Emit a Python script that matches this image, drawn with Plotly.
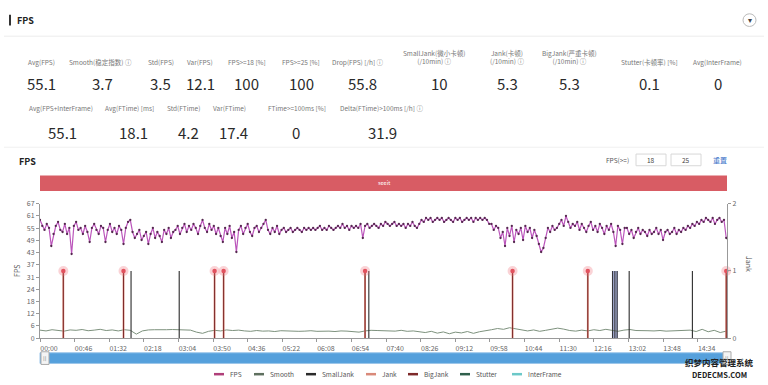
import plotly.graph_objects as go

W, H = 768, 385

# ---------------- data ----------------
summary_labels_r1 = ["Avg(FPS)", "Smooth(稳定指数) ⓘ", "Std(FPS)", "Var(FPS)", "FPS>=18 [%]",
                     "FPS>=25 [%]", "Drop(FPS) [/h] ⓘ", "SmallJank(微小卡顿)<br>(/10min) ⓘ",
                     "Jank(卡顿)<br>(/10min) ⓘ", "BigJank(严重卡顿)<br>(/10min) ⓘ",
                     "Stutter(卡顿率) [%]", "Avg(InterFrame)"]
summary_values_r1 = ["55.1", "3.7", "3.5", "12.1", "100", "100", "55.8", "10", "5.3", "5.3", "0.1", "0"]
summary_labels_r2 = ["Avg(FPS+InterFrame)", "Avg(FTime) [ms]", "Std(FTime)", "Var(FTime)",
                     "FTime>=100ms [%]", "Delta(FTime)>100ms [/h] ⓘ"]
summary_values_r2 = ["55.1", "18.1", "4.2", "17.4", "0", "31.9"]

time_tick_labels = ["00:00", "00:46", "01:32", "02:18", "03:04", "03:50", "04:36", "05:22", "06:08",
                    "06:54", "07:40", "08:26", "09:12", "09:58", "10:44", "11:30", "12:16", "13:02",
                    "13:48", "14:34"]
time_tick_seconds = [0, 46, 92, 138, 184, 230, 276, 322, 368, 414, 460, 506, 552, 598, 644, 690,
                     736, 782, 828, 874]
time_axis_end_s = 913

fps_sample_step_s = 3
fps_values = [
    59, 56, 54, 57, 55, 46, 52, 56, 58, 54, 53, 57, 52, 55, 42, 56, 58, 54, 55, 52,
    56, 53, 48, 55, 57, 54, 52, 56, 55, 48, 54, 57, 53, 55, 52, 56, 54, 47, 55, 58,
    59, 53, 50, 52, 54, 49, 51, 53, 47, 52, 55, 50, 53, 51, 48, 54, 52, 55, 50, 53,
    54, 56, 52, 55, 57, 53, 56, 54, 57, 55, 52, 56, 59, 55, 53, 57, 54, 56, 52, 55,
    51, 48, 55, 52, 56, 50, 53, 43, 54, 56, 52, 55, 57, 53, 51, 55, 56, 53, 55, 57,
    59, 54, 52, 55, 53, 56, 52, 54, 55, 53, 54, 55, 53, 54, 55, 54, 53, 55, 54, 55,
    54, 55, 54, 55, 56, 54, 55, 54, 56, 55, 54, 55, 56, 55, 57, 55, 56, 54, 56, 55,
    56, 55, 57, 50, 56, 57, 55, 56, 57, 56, 55, 57, 56, 58, 57, 56, 57, 58, 56, 57,
    56, 57, 55, 57, 56, 58, 56, 55, 57, 59, 58, 60, 59, 60, 58, 59, 60, 59, 60, 58,
    59, 60, 59, 58, 60, 59, 60, 58, 59, 60, 59, 60, 58, 60, 59, 60, 59, 60, 59, 57,
    57, 54, 56, 55, 50, 53, 46, 55, 51, 56, 48, 54, 52, 55, 49, 56, 53, 55, 50, 54,
    51, 47, 43, 45, 50, 55, 53, 56, 54, 55, 57, 59, 56, 61, 58, 55, 57, 56, 58, 54,
    57, 55, 53, 56, 58, 54, 56, 53, 57, 55, 52, 56, 54, 57, 53, 46, 56, 54, 47, 55,
    55, 52, 54, 50, 53, 55, 52, 54, 53, 51, 54, 52, 53, 55, 52, 54, 49, 53, 54, 52,
    53, 55, 52, 54, 53, 55, 54, 56, 55, 57, 56, 58, 57, 59, 58, 60, 59, 58, 60, 57,
    59, 60, 58, 59, 50,
]

smooth_sample_step_s = 8
smooth_values = [
    4.0, 3.6, 4.2, 3.8, 3.5, 4.1, 3.9, 4.3, 3.7, 4.0, 4.4, 3.8, 4.1, 3.6, 4.2, 3.9,
    2.0,
    3.6, 4.1, 4.2, 4.1, 4.2, 4.3, 4.1, 4.2, 4.0,
    3.0, 2.4, 3.4,
    3.9, 3.6, 4.1, 3.8, 4.0,
    3.6, 3.4, 3.8, 3.5, 3.6, 3.3, 3.7, 3.5, 3.6, 3.4, 3.5, 3.7, 3.4, 3.6, 3.5, 3.3, 3.6,
    3.5, 3.2, 3.0, 3.6, 3.9,
    3.8, 3.6, 3.7, 3.5, 3.9, 3.4, 3.6, 3.3,
    2.8, 3.4, 2.5, 3.1, 2.2, 3.0, 2.6, 3.3, 2.4, 3.2, 3.6,
    4.2, 4.8, 4.4, 5.2, 4.6, 4.0,
    3.6, 4.1, 3.4, 3.9, 4.6, 5.0, 4.5, 3.8, 3.5, 4.0,
    3.6, 4.2, 3.8, 4.4, 3.9, 3.4, 4.0, 4.3, 3.8, 3.6,
    3.7, 3.6, 3.8, 3.5, 3.7, 3.6, 3.8, 4.0, 3.3, 4.4, 3.2, 3.9, 2.8, 3.5,
]

jank_times_s = [31, 111, 232, 244, 432, 628, 728, 912]
bigjank_times_s = [31, 111, 232, 244, 432, 628, 728, 912]
smalljank_times_s = [121, 185, 437, 761, 764, 767, 783, 867]
blue_span_s = [760, 768]

fps_axis_max = 67.1
fps_tick_step = 6.1
fps_tick_labels = ["0", "6", "12", "18", "24", "31", "37", "43", "49", "55", "61", "67"]
jank_tick_values = [0, 1, 2]

legend_names = ["FPS", "Smooth", "SmallJank", "Jank", "BigJank", "Stutter", "InterFrame"]

# ---------------- styles ----------------
C_FPS = "#bb55bb"
C_FPS_DOT = "#55284f"
C_SMOOTH = "#7d917d"
C_SMALL = "#2b2b2b"
C_JANK = "#d98a7a"
C_BIG = "#7e2a2a"
C_STUTTER = "#2f5f4c"
C_INTER = "#6cc8c8"
legend_colors = ["#b0407a", "#5f705f", C_SMALL, C_JANK, C_BIG, C_STUTTER, C_INTER]

FONT = "Noto Sans CJK SC"


def px(x):
    return x / W


def py(y):
    return 1 - y / H


def spikes(times):
    xs, ys = [], []
    for t in times:
        xs += [t, t, None]
        ys += [0, 1, None]
    return xs, ys


fig = go.Figure()

# Smooth (left axis)
fig.add_trace(go.Scatter(
    x=[i * smooth_sample_step_s for i in range(len(smooth_values))], y=smooth_values,
    mode="lines", line=dict(color=C_SMOOTH, width=1), name="Smooth", yaxis="y"))

# FPS (left axis)
fig.add_trace(go.Scatter(
    x=[i * fps_sample_step_s for i in range(len(fps_values))], y=fps_values,
    mode="lines+markers", line=dict(color=C_FPS, width=1.2),
    marker=dict(color=C_FPS_DOT, size=2.3), name="FPS", yaxis="y"))

# SmallJank spikes
sx, sy = spikes(smalljank_times_s)
fig.add_trace(go.Scatter(x=sx, y=sy, mode="lines", line=dict(color=C_SMALL, width=1.1),
                         name="SmallJank", yaxis="y2"))
# Jank spikes
jx, jy = spikes(jank_times_s)
fig.add_trace(go.Scatter(x=jx, y=jy, mode="lines", line=dict(color=C_JANK, width=1.8),
                         name="Jank", yaxis="y2"))
# BigJank spikes
bx, by = spikes(bigjank_times_s)
fig.add_trace(go.Scatter(x=bx, y=by, mode="lines", line=dict(color=C_BIG, width=1),
                         name="BigJank", yaxis="y2"))
# Jank markers (halo + core)
fig.add_trace(go.Scatter(x=jank_times_s, y=[1] * len(jank_times_s), mode="markers",
                         marker=dict(color="rgba(240,110,120,0.3)", size=10),
                         yaxis="y2", showlegend=False, cliponaxis=False))
fig.add_trace(go.Scatter(x=jank_times_s, y=[1] * len(jank_times_s), mode="markers",
                         marker=dict(color="#e2525e", size=4.5), yaxis="y2",
                         showlegend=False, cliponaxis=False))

axis_font = dict(family=FONT, size=7, color="#666")

fig.update_layout(
    width=W, height=H, margin=dict(l=0, r=0, t=0, b=0),
    paper_bgcolor="white", plot_bgcolor="white", showlegend=False,
    xaxis=dict(domain=[px(40), px(727)], range=[0, time_axis_end_s], tickvals=time_tick_seconds,
               ticktext=time_tick_labels, ticklabelshift=9, showline=True, linecolor="#999",
               ticks="outside", ticklen=3, tickcolor="#999", showgrid=False, zeroline=False,
               tickfont=axis_font),
    yaxis=dict(domain=[py(341), py(203)], range=[0, fps_axis_max],
               tickvals=[i * fps_tick_step for i in range(len(fps_tick_labels))],
               ticktext=fps_tick_labels, showline=True, linecolor="#999", ticks="outside",
               ticklen=3, tickcolor="#999", showgrid=False, zeroline=False, tickfont=axis_font),
    yaxis2=dict(overlaying="y", side="right", anchor="x", range=[0, 2], tickvals=jank_tick_values,
                showline=True, linecolor="#999", ticks="outside", ticklen=3, tickcolor="#999",
                showgrid=False, zeroline=False, tickfont=axis_font),
)

shapes = []
ann = []

# card decoration
shapes.append(dict(type="line", xref="paper", yref="paper", x0=px(4), x1=px(764), y0=py(31), y1=py(31),
                   line=dict(color="#ececec", width=1)))
shapes.append(dict(type="line", xref="paper", yref="paper", x0=px(4), x1=px(764), y0=py(145), y1=py(145),
                   line=dict(color="#f0f0f0", width=1)))
shapes.append(dict(type="rect", xref="paper", yref="paper", x0=px(9), x1=px(11), y0=py(20), y1=py(9),
                   fillcolor="#333", line=dict(width=0)))
ann.append(dict(x=px(15), y=py(15), text="<b>FPS</b>", xanchor="left", yanchor="middle",
                font=dict(family=FONT, size=9, color="#222")))
shapes.append(dict(type="circle", xref="paper", yref="paper", x0=px(743), x1=px(756), y0=py(21), y1=py(8),
                   line=dict(color="#bbb", width=1), fillcolor="white"))
ann.append(dict(x=px(749.5), y=py(14.5), text="▾", xanchor="center", yanchor="middle",
                font=dict(family="DejaVu Sans", size=8, color="#444")))

# summary stats
r1_lx = [41, 100, 161, 200, 247, 301, 358, 434, 507, 569, 649, 717]
r1_vx = [41, 102, 160, 200, 246, 301, 362, 439, 507, 569, 649, 718]
for lab, val, lx, vx in zip(summary_labels_r1, summary_values_r1, r1_lx, r1_vx):
    ly = 52.5 if "<br>" in lab else 57
    ann.append(dict(x=px(lx), y=py(ly), text=lab, xanchor="center", yanchor="middle",
                    font=dict(family=FONT, size=6.5, color="#777")))
    ann.append(dict(x=px(vx), y=py(80), text=val, xanchor="center", yanchor="middle",
                    font=dict(family=FONT, size=15, color="#2a2a2a")))
r2_lx = [61, 129, 183, 229, 297, 381]
r2_vx = [62, 133, 188, 233, 296, 382]
for lab, val, lx, vx in zip(summary_labels_r2, summary_values_r2, r2_lx, r2_vx):
    ann.append(dict(x=px(lx), y=py(105), text=lab, xanchor="center", yanchor="middle",
                    font=dict(family=FONT, size=6.5, color="#777")))
    ann.append(dict(x=px(vx), y=py(130), text=val, xanchor="center", yanchor="middle",
                    font=dict(family=FONT, size=15, color="#2a2a2a")))

# chart header
ann.append(dict(x=px(17), y=py(160), text="<b>FPS</b>", xanchor="left", yanchor="middle",
                font=dict(family=FONT, size=9, color="#222")))
ann.append(dict(x=px(631), y=py(158), text="FPS(>=)", xanchor="right", yanchor="middle",
                font=dict(family=FONT, size=6.5, color="#555")))
for (x0, x1), txt in zip([(636, 666), (671, 701)], ["18", "25"]):
    shapes.append(dict(type="rect", xref="paper", yref="paper", x0=px(x0), x1=px(x1), y0=py(164), y1=py(152),
                       line=dict(color="#d8d8d8", width=1), fillcolor="white"))
    ann.append(dict(x=px((x0 + x1) / 2), y=py(158), text=txt, xanchor="center", yanchor="middle",
                    font=dict(family=FONT, size=6.5, color="#444")))
ann.append(dict(x=px(720), y=py(158), text="重置", xanchor="center", yanchor="middle",
                font=dict(family=FONT, size=7, color="#3a72c8")))

# red scene bar
shapes.append(dict(type="rect", xref="paper", yref="paper", x0=px(40), x1=px(727), y0=py(190), y1=py(174),
                   fillcolor="#d85c64", line=dict(width=0)))
ann.append(dict(x=px(384), y=py(182), text="seeit", xanchor="center", yanchor="middle",
                font=dict(family=FONT, size=5.5, color="white")))

# blue band
shapes.append(dict(type="rect", xref="x", yref="y2", x0=blue_span_s[0], x1=blue_span_s[1], y0=0, y1=1,
                   fillcolor="rgba(90,110,210,0.45)", line=dict(width=0), layer="below"))

# axis titles
ann.append(dict(x=px(17), y=py(272), text="FPS", textangle=-90, xanchor="center", yanchor="middle",
                font=dict(family=FONT, size=7, color="#555")))
ann.append(dict(x=px(749), y=py(265), text="Jank", textangle=90, xanchor="center", yanchor="middle",
                font=dict(family=FONT, size=7, color="#555")))

# data zoom slider
shapes.append(dict(type="rect", xref="paper", yref="paper", x0=px(40), x1=px(729), y0=py(367), y1=py(356),
                   fillcolor="#55a0dc", line=dict(color="#9cc6ea", width=1)))
for hx in (45, 727):
    shapes.append(dict(type="rect", xref="paper", yref="paper", x0=px(hx - 4), x1=px(hx + 4),
                       y0=py(368), y1=py(355), fillcolor="#f4f4f4", line=dict(color="#aaa", width=1)))
    ann.append(dict(x=px(hx), y=py(361.5), text="||", xanchor="center", yanchor="middle",
                    font=dict(family="DejaVu Sans", size=5, color="#777")))

# custom legend
legend_icon_x = [219, 259, 311, 371, 413, 465, 517]
for name, col, ix in zip(legend_names, legend_colors, legend_icon_x):
    shapes.append(dict(type="line", xref="paper", yref="paper", x0=px(ix - 5), x1=px(ix + 5),
                       y0=py(378), y1=py(378), line=dict(color=col, width=2.5)))
    ann.append(dict(x=px(ix + 9), y=py(378), text=name, xanchor="left", yanchor="middle",
                    font=dict(family=FONT, size=6.5, color="#555")))

# watermark
ann.append(dict(x=px(719), y=py(366), text="<b>织梦内容管理系统</b>", xanchor="center", yanchor="middle",
                font=dict(family=FONT, size=8.5, color="#222")))
ann.append(dict(x=px(719), y=py(378), text="<b>DEDECMS.COM</b>", xanchor="center", yanchor="middle",
                font=dict(family=FONT, size=7.5, color="#222")))

for a in ann:
    a.setdefault("xref", "paper")
    a.setdefault("yref", "paper")
    a.setdefault("showarrow", False)

fig.update_layout(shapes=shapes, annotations=ann)
fig.write_html("out.html", config={"displayModeBar": False},
               post_script="document.body.style.margin='0';document.body.style.overflow='hidden';")
